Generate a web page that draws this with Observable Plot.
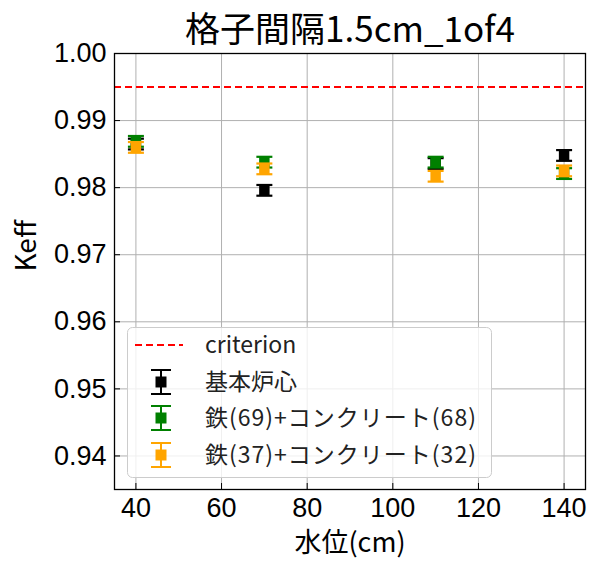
<!DOCTYPE html>
<html><head><meta charset="utf-8">
<script src="https://cdn.jsdelivr.net/npm/d3@7"></script>
<script src="https://cdn.jsdelivr.net/npm/@observablehq/plot@0.6"></script>
<style>
body{margin:0;background:#fff;}
#wrap{position:relative;width:589px;height:561px;font-family:"Noto Sans CJK JP",sans-serif;}
#legend{position:absolute;left:127px;top:327px;}
</style></head>
<body><div id="wrap"></div>
<script>
const titleText = "格子間隔1.5cm_1of4";
const xLabel = "水位(cm)";
const yLabel = "Keff";
const xTicks = [40, 60, 80, 100, 120, 140];
const yTicks = [0.94, 0.95, 0.96, 0.97, 0.98, 0.99, 1.00];
const criterion = 0.995;
const waterLevels = [40, 70, 110, 140];
const names = ["基本炉心", "鉄(69)+コンクリート(68)", "鉄(37)+コンクリート(32)"];
const colors = ["#000000", "#008000", "#ffa500"];
const keffBase = [0.9865, 0.9796, 0.9836, 0.9848];
const keffFe69 = [0.9869, 0.9838, 0.9838, 0.9821];
const keffFe37 = [0.9860, 0.9828, 0.9817, 0.9825];
const errBase = [0.0008, 0.0008, 0.0008, 0.0008];
const errFe69 = [0.0008, 0.0008, 0.0008, 0.0008];
const errFe37 = [0.0008, 0.0008, 0.0008, 0.0008];

const seriesVals = [keffBase, keffFe69, keffFe37];
const seriesErr = [errBase, errFe69, errFe37];

const capSymbol = {draw(ctx, size){ const r = Math.sqrt(size/Math.PI); ctx.moveTo(-r,0); ctx.lineTo(r,0); }};

const dataMarks = [];
seriesVals.forEach((vals, si) => {
  const rows = waterLevels.map((x, i) => ({x, y: vals[i], e: seriesErr[si][i]}));
  const c = colors[si];
  dataMarks.push(
    Plot.ruleX(rows, {x: "x", y1: d => d.y - d.e, y2: d => d.y + d.e, stroke: c, strokeWidth: 2}),
    Plot.dot(rows, {x: "x", y: d => d.y - d.e, symbol: capSymbol, r: 8, stroke: c, strokeWidth: 2.2}),
    Plot.dot(rows, {x: "x", y: d => d.y + d.e, symbol: capSymbol, r: 8, stroke: c, strokeWidth: 2.2}),
    Plot.dot(rows, {x: "x", y: "y", symbol: "square", r: 5.9, fill: c, stroke: "none"})
  );
});

const font = "Noto Sans CJK JP";
const tickFont = "Liberation Sans";
const chart = Plot.plot({
  width: 589, height: 561,
  marginTop: 53, marginBottom: 72, marginLeft: 114, marginRight: 4,
  style: {fontFamily: font, background: "white", color: "black"},
  x: {domain: [35, 145]},
  y: {domain: [0.935, 1.0]},
  marks: [
    Plot.gridX(xTicks, {stroke: "#b0b0b0", strokeOpacity: 1, strokeWidth: 1}),
    Plot.gridY(yTicks, {stroke: "#b0b0b0", strokeOpacity: 1, strokeWidth: 1}),
    Plot.ruleY([criterion], {stroke: "red", strokeWidth: 2, strokeDasharray: "7,4"}),
    ...dataMarks,
    Plot.axisX({ticks: xTicks, tickSize: -6, tickPadding: 14, fontSize: 27, fontFamily: tickFont, label: null, stroke: "black"}),
    Plot.axisY({ticks: yTicks, tickSize: -6, tickPadding: 14, fontSize: 27, fontFamily: tickFont, label: null, tickFormat: d3.format(".2f"), stroke: "black"}),
    Plot.frame({stroke: "black", strokeWidth: 1.3}),
    Plot.text([titleText], {text: d => d, frameAnchor: "top", dy: -23, lineAnchor: "middle", fontSize: 35, fill: "black"}),
    Plot.text([xLabel], {text: d => d, frameAnchor: "bottom", dy: 54, lineAnchor: "middle", fontSize: 27, fill: "black"}),
    Plot.text([yLabel], {text: d => d, frameAnchor: "left", dx: -87, rotate: -90, lineAnchor: "middle", fontSize: 28, fill: "black"})
  ]
});
const wrap = document.getElementById("wrap");
wrap.appendChild(chart);

// legend overlay
const rowY = [18, 55, 91, 128];
let svg = `<svg width="366" height="152" xmlns="http://www.w3.org/2000/svg" style="font-family:'${font}';">
<rect x="0.5" y="0.5" width="364" height="150" rx="5" ry="5" fill="white" fill-opacity="0.8" stroke="#cccccc" stroke-width="1"/>
<line x1="8" x2="56" y1="${rowY[0]}" y2="${rowY[0]}" stroke="red" stroke-width="2" stroke-dasharray="7,4"/>
<text x="78" y="${rowY[0]}" dy="0.35em" font-size="23" fill="#222">criterion</text>`;
names.forEach((n, i) => {
  const y = rowY[i+1], c = colors[i];
  svg += `<line x1="34" x2="34" y1="${y-12}" y2="${y+12}" stroke="${c}" stroke-width="2"/>
<line x1="24" x2="44" y1="${y-12}" y2="${y-12}" stroke="${c}" stroke-width="2"/>
<line x1="24" x2="44" y1="${y+12}" y2="${y+12}" stroke="${c}" stroke-width="2"/>
<rect x="28.5" y="${y-5.5}" width="11" height="11" fill="${c}"/>
<text x="78" y="${y}" dy="0.35em" font-size="23" letter-spacing="${i === 0 ? 0 : 1}" fill="#222">${n}</text>`;
});
svg += `</svg>`;
const lg = document.createElement("div");
lg.id = "legend";
lg.innerHTML = svg;
wrap.appendChild(lg);
</script></body></html>
